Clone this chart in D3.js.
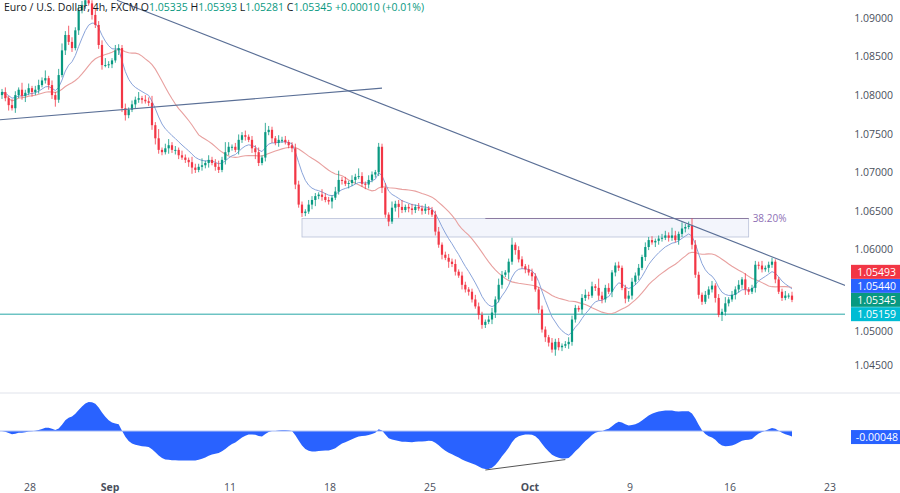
<!DOCTYPE html>
<html>
<head>
<meta charset="utf-8">
<script src="https://cdn.jsdelivr.net/npm/d3@7"></script>
<style>
body { margin: 0; background: #fff; font-family: "Open Sans", "DejaVu Sans", sans-serif; }
</style>
</head>
<body>
<div id="vis"></div>
<script>
// chart size
const FRAME_WIDTH = 900;
const FRAME_HEIGHT = 493;

// data: 4h closes EUR/USD
const closes = [1.0804,1.0796,1.0787,1.0783,1.0800,1.0807,1.0799,1.0803,1.0809,1.0804,1.0807,1.0813,1.0819,1.0822,1.0813,1.0800,1.0794,1.0826,
1.0858,1.0878,1.0869,1.0861,1.0884,1.0910,1.0917,1.0923,1.0919,1.0904,1.0891,1.0865,1.0839,1.0839,1.0840,1.0845,1.0858,1.0861,
1.0783,1.0774,1.0781,1.0788,1.0794,1.0796,1.0794,1.0792,1.0790,1.0761,1.0744,1.0729,1.0726,1.0731,1.0735,1.0729,1.0729,1.0722,
1.0719,1.0716,1.0713,1.0706,1.0703,1.0707,1.0709,1.0712,1.0716,1.0712,1.0707,1.0703,1.0716,1.0726,1.0733,1.0733,1.0729,1.0742,
1.0748,1.0746,1.0742,1.0731,1.0726,1.0712,1.0719,1.0752,1.0755,1.0744,1.0738,1.0742,1.0742,1.0739,1.0735,1.0731,1.0684,1.0658,
1.0647,1.0649,1.0658,1.0664,1.0669,1.0671,1.0668,1.0664,1.0662,1.0667,1.0675,1.0690,1.0689,1.0685,1.0686,1.0690,1.0694,1.0695,
1.0685,1.0684,1.0690,1.0697,1.0700,1.0733,1.0680,1.0645,1.0636,1.0654,1.0659,1.0655,1.0651,1.0655,1.0653,1.0651,1.0655,1.0653,
1.0650,1.0653,1.0651,1.0645,1.0623,1.0606,1.0593,1.0589,1.0584,1.0581,1.0571,1.0566,1.0554,1.0548,1.0545,1.0535,1.0526,1.0515,
1.0502,1.0506,1.0509,1.0518,1.0535,1.0554,1.0567,1.0570,1.0584,1.0606,1.0599,1.0587,1.0578,1.0574,1.0570,1.0565,1.0548,1.0522,
1.0496,1.0486,1.0479,1.0470,1.0480,1.0473,1.0475,1.0477,1.0480,1.0509,1.0524,1.0522,1.0537,1.0541,1.0540,1.0552,1.0550,1.0540,
1.0535,1.0550,1.0545,1.0570,1.0579,1.0576,1.0550,1.0536,1.0540,1.0558,1.0566,1.0576,1.0590,1.0603,1.0612,1.0609,1.0611,1.0614,
1.0615,1.0618,1.0615,1.0618,1.0612,1.0620,1.0627,1.0629,1.0631,1.0606,1.0567,1.0541,1.0532,1.0541,1.0548,1.0553,1.0537,1.0515,
1.0519,1.0530,1.0535,1.0541,1.0548,1.0554,1.0561,1.0548,1.0545,1.0550,1.0580,1.0579,1.0574,1.0576,1.0580,1.0584,1.0561,1.0545,
1.0537,1.0540,1.0540,1.05345];
const firstOpen = 1.0800;
// wick lengths in pips (up / down)
const wickUp = [4,6,3,8,5,3,9,4,6,3,5,7,4,10,3,6,4,8,9,5,12,6,4,7,5,3,6,4,8,5,6,9,4,3,7,5,
4,6,3,5,4,8,3,6,5,9,4,12,3,6,8,4,5,3,6,4,3,7,5,4,9,3,6,4,5,8,4,13,6,3,5,7,4,6,3,5,4,6,3,12,5,4,3,6,4,5,3,4,6,5,
4,3,6,5,4,3,7,5,4,3,6,12,4,5,3,6,4,10,5,3,6,4,3,5,4,6,3,8,4,5,9,3,4,6,3,5,4,6,3,4,5,6,3,4,5,4,6,3,5,4,
3,4,6,5,4,3,5,6,4,8,5,3,4,9,3,5,4,3,6,5,4,3,5,4,3,6,4,5,3,4,6,5,4,3,5,7,4,6,3,12,5,4,6,3,4,5,3,4,6,5,
4,5,3,6,4,5,3,4,5,6,4,10,6,3,8,4,5,9,6,4,3,5,4,6,3,5,4,8,3,5,4,6,3,8,3,4,5,4,6,3,4,5,3,3,
4,6,3,5,12,4,3,5,9,4,3,5,4,3,4,6,3,5,4,3];
const wickDn = [5,4,7,3,6,4,5,8,3,6,4,5,3,4,6,5,9,4,3,6,4,5,3,6,4,5,3,6,4,5,6,3,4,5,3,6,
5,7,4,3,6,4,5,3,4,6,8,5,4,3,7,4,6,5,3,4,6,8,4,3,5,4,6,3,5,4,3,6,4,5,3,6,4,5,3,6,9,4,3,5,4,6,3,5,4,3,4,5,6,4,
5,4,3,6,8,4,5,3,4,9,3,4,5,3,6,4,5,3,4,6,5,3,4,5,7,4,6,3,5,14,4,3,5,6,4,3,5,4,6,3,5,4,6,3,8,4,5,3,6,4,
5,4,3,6,5,4,3,6,7,4,5,3,9,4,6,4,3,5,4,6,3,5,4,6,5,4,8,4,5,3,6,5,4,3,6,4,5,3,4,6,5,4,3,7,5,4,3,6,4,5,
4,6,3,5,4,3,6,5,4,3,5,4,3,6,4,5,3,6,4,5,4,3,5,4,6,3,8,5,4,3,6,4,5,7,4,3,6,5,4,3,6,4,5,3,4,3,4,3,
5,3,4,6,3,4,5,3,12,4,3,5,4,6,3,4,5,3,4,3];

// axis ticks
const priceTicks = [1.045,1.05,1.06,1.065,1.07,1.075,1.08,1.085,1.09];
const dateLabels = ["28","Sep","11","18","25","Oct","9","16","23"];
const dateIndex = [8.4,32.4,68.4,98.4,128.4,158.4,188.4,218.4,248.4];

// drawings: [index, price]
const downTrend = [[34.5,1.0923],[253,1.0553]];
const upTrend = [[-0.6,1.0768],[114,1.0809]];
const fibBox = {i0:90, i1:224, top:1.0640, bottom:1.0616, label:"38.20%", line0:145};
const supportLevel = 1.05159;
const priceTags = [
  {v:1.05493, text:"1.05493", color:"#f23645"},
  {v:1.05440, text:"1.05440", color:"#2962ff"},
  {v:1.05345, text:"1.05345", color:"#089981"},
  {v:1.05159, text:"1.05159", color:"#00bcd4"}
];

const MAIN = {top:18, bottom:365, right:845};
const OSC = {top:402, bottom:469};

const svg = d3.select("#vis").append("svg")
  .attr("width", FRAME_WIDTH).attr("height", FRAME_HEIGHT)
  .style("font-family", "'Open Sans', 'DejaVu Sans', sans-serif");

const n = closes.length;
const X_SCALE = d3.scaleLinear().domain([0, n - 1]).range([2, 792]);
const Y_SCALE = d3.scaleLinear().domain([1.045, 1.09]).range([365, 18]);

const candles = closes.map((c, i) => {
  const o = i === 0 ? firstOpen : closes[i - 1];
  return {i, o, c, h: Math.max(o, c) + wickUp[i] * 0.0001, l: Math.min(o, c) - wickDn[i] * 0.0001};
});

// pane separator
svg.append("line").attr("x1", 0).attr("x2", FRAME_WIDTH).attr("y1", 393).attr("y2", 393)
  .attr("stroke", "#e0e3eb");

const main = svg.append("g");
main.append("clipPath").attr("id", "clipMain").append("rect")
  .attr("x", 0).attr("y", 0).attr("width", MAIN.right).attr("height", 392);
const plot = main.append("g").attr("clip-path", "url(#clipMain)");

// fib box
plot.append("rect")
  .attr("x", X_SCALE(fibBox.i0)).attr("y", Y_SCALE(fibBox.top))
  .attr("width", X_SCALE(fibBox.i1) - X_SCALE(fibBox.i0))
  .attr("height", Y_SCALE(fibBox.bottom) - Y_SCALE(fibBox.top))
  .attr("fill", "#f3f5fc").attr("stroke", "#b8c0d8").attr("stroke-width", 0.8);
plot.append("line")
  .attr("x1", X_SCALE(fibBox.line0)).attr("x2", X_SCALE(fibBox.i1))
  .attr("y1", Y_SCALE(fibBox.top)).attr("y2", Y_SCALE(fibBox.top))
  .attr("stroke", "#8a7aa0").attr("stroke-width", 1);
plot.append("text").attr("x", X_SCALE(fibBox.i1) + 4).attr("y", Y_SCALE(fibBox.top) + 4)
  .attr("font-size", 10).attr("fill", "#8e6fb5").text(fibBox.label);

// support line
plot.append("line").attr("x1", 0).attr("x2", MAIN.right)
  .attr("y1", Y_SCALE(supportLevel)).attr("y2", Y_SCALE(supportLevel))
  .attr("stroke", "#26a6a6").attr("stroke-width", 1);

// moving averages
function ema(arr, p) {
  const k = 2 / (p + 1); let prev = arr[0];
  return arr.map(v => (prev = v * k + prev * (1 - k)));
}
function sma(arr, p) {
  return arr.map((v, i) => d3.mean(arr.slice(Math.max(0, i - p + 1), i + 1)));
}
const fast = ema(closes, 9);
const slow = sma(closes, 24);
const maLine = d3.line().x((d, i) => X_SCALE(i)).y(d => Y_SCALE(d));
plot.append("path").datum(slow).attr("d", maLine).attr("fill", "none")
  .attr("stroke", "#e8a09f").attr("stroke-width", 1.1);
plot.append("path").datum(fast).attr("d", maLine).attr("fill", "none")
  .attr("stroke", "#8aa4da").attr("stroke-width", 1);

// candles
const cw = 2.2;
const cg = plot.append("g");
cg.selectAll("line").data(candles).enter().append("line")
  .attr("x1", d => X_SCALE(d.i)).attr("x2", d => X_SCALE(d.i))
  .attr("y1", d => Y_SCALE(d.h)).attr("y2", d => Y_SCALE(d.l))
  .attr("stroke", d => d.c >= d.o ? "#089981" : "#f23645").attr("stroke-width", 0.8);
cg.selectAll("rect").data(candles).enter().append("rect")
  .attr("x", d => X_SCALE(d.i) - cw / 2).attr("width", cw)
  .attr("y", d => Y_SCALE(Math.max(d.o, d.c)))
  .attr("height", d => Math.max(1, Math.abs(Y_SCALE(d.o) - Y_SCALE(d.c))))
  .attr("fill", d => d.c >= d.o ? "#089981" : "#f23645");

// trend lines
[downTrend, upTrend].forEach(t => {
  plot.append("line")
    .attr("x1", X_SCALE(t[0][0])).attr("y1", Y_SCALE(t[0][1]))
    .attr("x2", X_SCALE(t[1][0])).attr("y2", Y_SCALE(t[1][1]))
    .attr("stroke", "#5a6f96").attr("stroke-width", 1.1);
});

// price axis (1.05500 hidden behind the price tags)
const yAxis = svg.append("g").attr("transform", `translate(896,0)`)
  .call(d3.axisLeft(Y_SCALE).tickValues(priceTicks).tickFormat(d3.format(".5f")).tickSize(0));
yAxis.select(".domain").remove();
yAxis.selectAll("text").attr("font-size", 10.5).attr("fill", "#4a4f5c")
  .attr("font-family", "'Open Sans', sans-serif")
  .attr("dy", d => d === 1.05 ? "0.75em" : "0.32em");

// price tags, stacked so they do not overlap
let below = Infinity;
priceTags.slice().sort((a, b) => a.v - b.v).forEach(p => {
  const y = Math.min(Y_SCALE(p.v), below - 14);
  below = y;
  const g = svg.append("g").attr("transform", `translate(851,${y})`);
  g.append("rect").attr("x", 0).attr("y", -7).attr("width", 49).attr("height", 14).attr("fill", p.color);
  g.append("text").attr("x", 45).attr("y", 4).attr("text-anchor", "end")
    .attr("font-size", 10.5).attr("fill", "#fff").text(p.text);
});

// header
const header = svg.append("text").attr("x", 4).attr("y", 11).attr("font-size", 10.5).attr("fill", "#131722");
header.append("tspan").text("Euro / U.S. Dollar, 4h, FXCM  ");
[["O","1.05335"],["H","1.05393"],["L","1.05281"],["C","1.05345"]].forEach(([k, v]) => {
  header.append("tspan").text(k);
  header.append("tspan").attr("fill", "#089981").text(v + "  ");
});
header.append("tspan").attr("fill", "#089981").text("+0.00010 (+0.01%)");

// oscillator (MACD line)
const e26 = ema(closes, 26);
const macd = ema(closes, 12).map((v, i) => v - e26[i]);
const O_SCALE = d3.scaleLinear().domain(d3.extent(macd)).range([OSC.bottom, OSC.top]);
const zeroY = O_SCALE(0);
svg.append("path").datum(macd)
  .attr("d", d3.area().x((d, i) => X_SCALE(i)).y0(zeroY).y1(d => O_SCALE(d)))
  .attr("fill", "#2962ff");
svg.append("line").attr("x1", 0).attr("x2", X_SCALE(n - 1)).attr("y1", zeroY).attr("y2", zeroY)
  .attr("stroke", "#a9bdf5").attr("stroke-width", 1);
// divergence line between the two lows
const lowA = d3.minIndex(macd.slice(130, 170)) + 130;
const lowB = d3.minIndex(macd.slice(165, 185)) + 165;
svg.append("line")
  .attr("x1", X_SCALE(lowA)).attr("y1", O_SCALE(macd[lowA]) + 1)
  .attr("x2", X_SCALE(lowB)).attr("y2", O_SCALE(macd[lowB]) + 1)
  .attr("stroke", "#555").attr("stroke-width", 1);
const ot = svg.append("g").attr("transform", `translate(851,${zeroY + 6})`);
ot.append("rect").attr("x", 0).attr("y", -7).attr("width", 49).attr("height", 14).attr("fill", "#2962ff");
ot.append("text").attr("x", 47).attr("y", 4).attr("text-anchor", "end")
  .attr("font-size", 10.5).attr("fill", "#fff").text("-0.00048");

// time axis
svg.selectAll(".dl").data(dateLabels).enter().append("text")
  .attr("x", (d, i) => X_SCALE(dateIndex[i])).attr("y", 491)
  .attr("text-anchor", "middle").attr("font-size", 10.5)
  .attr("font-weight", d => (d === "Sep" || d === "Oct") ? "bold" : "normal")
  .attr("fill", "#4a4f5c").text(d => d);
</script>
</body>
</html>
